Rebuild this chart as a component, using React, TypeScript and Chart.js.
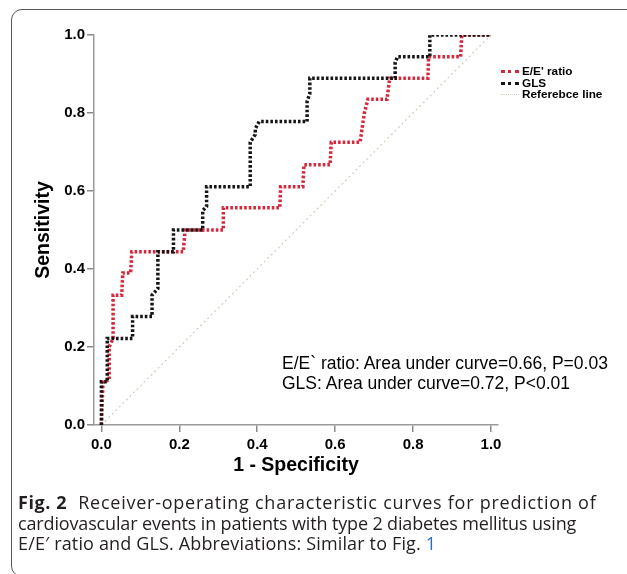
import React, { useEffect, useRef } from "react";
import { Chart, registerables } from "chart.js";

Chart.register(...registerables);

// ---- data ----
const xTicks = [0, 0.2, 0.4, 0.6, 0.8, 1.0];
const yTicks = [0, 0.2, 0.4, 0.6, 0.8, 1.0];

// E/E' ratio ROC corner points
const eeFpr = [0, 0.004, 0.02, 0.02, 0.03, 0.03, 0.052, 0.055, 0.075, 0.078, 0.21, 0.215, 0.313, 0.313, 0.458, 0.46, 0.517, 0.52, 0.587, 0.59, 0.664, 0.672, 0.675, 0.684, 0.733, 0.74, 0.838, 0.84, 0.922, 0.925, 1.0];
const eeTpr = [0, 0.11, 0.115, 0.2, 0.222, 0.333, 0.333, 0.39, 0.39, 0.444, 0.444, 0.5, 0.5, 0.557, 0.557, 0.611, 0.611, 0.667, 0.667, 0.725, 0.725, 0.78, 0.80, 0.835, 0.835, 0.889, 0.889, 0.944, 0.944, 1.0, 1.0];

// GLS ROC corner points
const glsFpr = [0, 0, 0.015, 0.015, 0.08, 0.08, 0.13, 0.13, 0.145, 0.145, 0.185, 0.185, 0.26, 0.26, 0.27, 0.27, 0.382, 0.382, 0.395, 0.395, 0.405, 0.528, 0.528, 0.535, 0.535, 0.754, 0.754, 0.76, 0.843, 0.843, 1.0];
const glsTpr = [0, 0.111, 0.111, 0.222, 0.222, 0.278, 0.278, 0.333, 0.35, 0.444, 0.444, 0.5, 0.5, 0.55, 0.56, 0.611, 0.611, 0.725, 0.745, 0.76, 0.778, 0.778, 0.83, 0.85, 0.889, 0.889, 0.93, 0.944, 0.944, 1.0, 1.0];

// reference diagonal
const refFpr = [0, 1];
const refTpr = [0, 1];

const seriesNames = ["E/E' ratio", "GLS", "Referebce line"];
const seriesColors = ["#d4283c", "#151515", "#d6cfbd"];
const annotationLines = [
  "E/E` ratio: Area under curve=0.66, P=0.03",
  "GLS: Area under curve=0.72, P<0.01",
];
const xTitle = "1 - Specificity";
const yTitle = "Sensitivity";

const ARIAL = "'Liberation Sans', Arial, sans-serif";

function toPoints(xs: number[], ys: number[]) {
  return xs.map((x, i) => ({ x, y: ys[i] }));
}

function RocChart() {
  const ref = useRef<HTMLCanvasElement | null>(null);
  useEffect(() => {
    if (!ref.current) return;
    const tickFont = { family: ARIAL, size: 15, weight: "bold" as const };
    const titleFont = { family: ARIAL, size: 19.5, weight: "bold" as const };
    const chart = new Chart(ref.current, {
      type: "scatter",
      data: {
        datasets: [
          {
            label: seriesNames[1],
            data: toPoints(glsFpr, glsTpr),
            showLine: true,
            borderColor: seriesColors[1],
            borderWidth: 3.5,
            borderDash: [2.6, 2],
            pointRadius: 0,
            tension: 0,
            fill: false,
          },
          {
            label: seriesNames[0],
            data: toPoints(eeFpr, eeTpr),
            showLine: true,
            borderColor: seriesColors[0],
            borderWidth: 3.5,
            borderDash: [2.6, 2],
            pointRadius: 0,
            tension: 0,
            fill: false,
          },
          {
            label: seriesNames[2],
            data: toPoints(refFpr, refTpr),
            showLine: true,
            borderColor: seriesColors[2],
            borderWidth: 1.3,
            borderDash: [2, 3],
            pointRadius: 0,
            tension: 0,
            fill: false,
          },
        ],
      },
      options: {
        responsive: false,
        animation: false,
        devicePixelRatio: 1,
        layout: { padding: { left: 0, top: 35, right: 129, bottom: 97 } },
        plugins: { legend: { display: false }, tooltip: { enabled: false } },
        scales: {
          x: {
            type: "linear",
            min: -0.019,
            max: 1.018,
            afterBuildTicks: (scale: any) => {
              scale.ticks = xTicks.map((v) => ({ value: v }));
            },
            afterFit: (scale: any) => {
              scale.height = 52;
            },
            ticks: {
              callback: (v: any) => Number(v).toFixed(1),
              font: tickFont,
              color: "#000",
              padding: 4,
              maxRotation: 0,
            },
            grid: {
              drawOnChartArea: false,
              drawTicks: true,
              tickLength: 7,
              color: "#8a8a8a",
              lineWidth: 1.5,
            },
            border: { display: true, color: "#9a9a9a", width: 1.5 },
            title: {
              display: true,
              text: xTitle,
              font: titleFont,
              color: "#000",
              padding: 0,
            },
          },
          y: {
            type: "linear",
            min: 0,
            max: 1.0,
            afterBuildTicks: (scale: any) => {
              scale.ticks = yTicks.map((v) => ({ value: v }));
            },
            afterFit: (scale: any) => {
              scale.width = 94;
            },
            ticks: {
              callback: (v: any) => Number(v).toFixed(1),
              font: tickFont,
              color: "#000",
              padding: 2,
            },
            grid: {
              drawOnChartArea: false,
              drawTicks: true,
              tickLength: 7,
              color: "#8a8a8a",
              lineWidth: 1.5,
            },
            border: { display: true, color: "#9a9a9a", width: 1.5 },
            title: {
              display: true,
              text: yTitle,
              font: titleFont,
              color: "#000",
              padding: { top: 32, bottom: 0 },
            },
          },
        },
      },
    });
    return () => chart.destroy();
  }, []);
  return (
    <canvas
      ref={ref}
      width={627}
      height={574}
      style={{ position: "absolute", left: 0, top: 0, width: 627, height: 574 }}
    />
  );
}

function Legend() {
  return (
    <div style={{ position: "absolute", left: 501, top: 66 }}>
      {seriesNames.map((name, i) => (
        <div
          key={name}
          style={{ display: "flex", alignItems: "center", height: 11.5 }}
        >
          <span
            style={{
              display: "inline-block",
              width: 18,
              height: 0,
              borderTop:
                i === 2
                  ? `1.5px dotted ${seriesColors[i]}`
                  : `3px dotted ${seriesColors[i]}`,
              marginRight: 3,
            }}
          />
          <span
            style={{
              fontFamily: ARIAL,
              fontWeight: "bold",
              fontSize: 10.5,
              color: "#000",
              display: "inline-block",
              transform: "scaleX(1.12)",
              transformOrigin: "left center",
              whiteSpace: "nowrap",
              lineHeight: "11px",
            }}
          >
            {name}
          </span>
        </div>
      ))}
    </div>
  );
}

export default function App() {
  const cap = {
    fontFamily: "'Open Sans', 'Noto Sans', sans-serif",
    fontSize: 18,
    color: "#231f20",
    lineHeight: "20.5px",
    whiteSpace: "nowrap" as const,
  };
  return (
    <div
      style={{
        position: "fixed",
        left: 0,
        top: 0,
        width: 627,
        height: 574,
        overflow: "hidden",
        background: "#fff",
      }}
    >
      <div
        style={{
          position: "absolute",
          left: 11,
          top: 9,
          width: 700,
          height: 568,
          border: "1.5px solid #555",
          borderRadius: 11,
          boxSizing: "border-box",
        }}
      />
      <RocChart />
      <Legend />
      <div
        style={{
          position: "absolute",
          left: 282,
          top: 353,
          fontFamily: ARIAL,
          fontSize: 17.5,
          color: "#000",
          lineHeight: "20px",
          whiteSpace: "nowrap",
        }}
      >
        {annotationLines.map((t) => (
          <div key={t}>{t}</div>
        ))}
      </div>
      <div style={{ position: "absolute", left: 18, top: 492, ...cap }}>
        <div>
          <b style={{ letterSpacing: 0.6 }}>Fig. 2</b>
          <span style={{ marginLeft: 11, letterSpacing: 0.75 }}>
            Receiver-operating characteristic curves for prediction of
          </span>
        </div>
        <div style={{ letterSpacing: -0.15 }}>
          cardiovascular events in patients with type 2 diabetes mellitus using
        </div>
        <div style={{ letterSpacing: 0.15 }}>
          E/E′ ratio and GLS. Abbreviations: Similar to Fig.{" "}
          <span style={{ color: "#2a6ebb" }}>1</span>
        </div>
      </div>
    </div>
  );
}
